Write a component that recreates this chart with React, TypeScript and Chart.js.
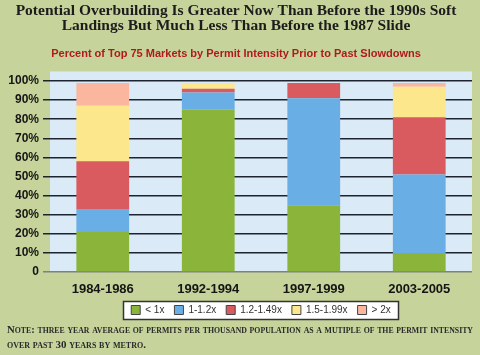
import React, { useEffect, useRef } from "react";
import { Chart, registerables } from "chart.js";

Chart.register(...registerables);

const categories = ["1984-1986", "1992-1994", "1997-1999", "2003-2005"];
const seriesNames = ["< 1x", "1-1.2x", "1.2-1.49x", "1.5-1.99x", "> 2x"];
const lessThan1x = [21, 85, 35, 10];
const from1to12x = [12, 9, 56, 41];
const from12to149x = [25, 2, 8, 30];
const from15to199x = [29, 3, 0, 16];
const over2x = [12, 0, 0, 2];
const seriesColors = ["#8bb43a", "#6aaee6", "#d95b5f", "#fde78c", "#fbb6a0"];
const yTickValues = [0, 10, 20, 30, 40, 50, 60, 70, 80, 90, 100];

const titleLines = [
  "Potential Overbuilding Is Greater Now Than Before the 1990s Soft",
  "Landings But Much Less Than Before the 1987 Slide",
];
const subtitleText = "Percent of Top 75 Markets by Permit Intensity Prior to Past Slowdowns";
const noteLines = [
  "Note: three year average of permits per thousand population as a mutiple of the permit intensity",
  "over past 30 years by metro.",
];

const PAGE_BG = "#c6d49b";
const PLOT_BG = "#daeaf6";

const bgPlugin = {
  id: "customBg",
  afterUpdate(chart: any) {
    chart.$legendShifted = false;
  },
  beforeDraw(chart: any) {
    const { ctx, chartArea } = chart;
    const legend = chart.legend;
    if (legend && !chart.$legendShifted) {
      const dx = Math.round((chartArea.left + chartArea.right) / 2 - (legend.left + legend.right) / 2);
      legend.left += dx;
      legend.right += dx;
      legend.legendHitBoxes.forEach((h: any) => (h.left += dx));
      chart.$legendShifted = true;
    }
    ctx.save();
    ctx.fillStyle = PAGE_BG;
    ctx.fillRect(0, 0, chart.width, chart.height);
    ctx.fillStyle = PLOT_BG;
    ctx.fillRect(chartArea.left, chartArea.top, chartArea.right - chartArea.left, chartArea.bottom - chartArea.top);
    const boxes = legend && legend.legendHitBoxes;
    if (boxes && boxes.length) {
      let l = Infinity, r = -Infinity, t = Infinity, b = -Infinity;
      boxes.forEach((h: any) => {
        l = Math.min(l, h.left);
        r = Math.max(r, h.left + h.width);
        t = Math.min(t, h.top);
        b = Math.max(b, h.top + h.height);
      });
      const x0 = Math.round(l - 8) + 0.5;
      const y0 = Math.round(t - 4) + 0.5;
      const x1 = Math.round(r + 7) + 0.5;
      const y1 = Math.round(b + 4) + 0.5;
      ctx.fillStyle = "#ffffff";
      ctx.fillRect(x0, y0, x1 - x0, y1 - y0);
      ctx.strokeStyle = "#333333";
      ctx.lineWidth = 1.5;
      ctx.strokeRect(x0, y0, x1 - x0, y1 - y0);
    }
    ctx.restore();
  },
  afterDraw(chart: any) {
    const { ctx } = chart;
    ctx.save();
    ctx.fillStyle = "#2a2a2a";
    ctx.font = "small-caps bold 11px 'Liberation Serif'";
    ctx.textAlign = "left";
    ctx.textBaseline = "middle";
    ctx.fillText(noteLines[0], 7, 330.5, 466);
    ctx.fillText(noteLines[1], 7, 345);
    ctx.restore();
  },
};

export default function App() {
  const ref = useRef<HTMLCanvasElement>(null);

  useEffect(() => {
    document.body.style.margin = "0";
    const values = [lessThan1x, from1to12x, from12to149x, from15to199x, over2x];
    const chart = new Chart(ref.current as HTMLCanvasElement, {
      type: "bar",
      data: {
        labels: categories,
        datasets: values.map((data, i) => ({
          label: seriesNames[i],
          data,
          backgroundColor: seriesColors[i],
          borderWidth: 0,
          categoryPercentage: 1,
          barPercentage: 0.5,
        })),
      },
      options: {
        responsive: false,
        animation: false,
        devicePixelRatio: 1,
        layout: { padding: { left: 0, right: 8, top: 0, bottom: 30 } },
        plugins: {
          tooltip: { enabled: false },
          title: {
            display: true,
            text: titleLines,
            color: "#1c1c1c",
            font: { family: "'Liberation Serif'", size: 15.5, weight: "bold", lineHeight: 0.95 },
            padding: { top: 3.5, bottom: 7.5 },
          },
          subtitle: {
            display: true,
            text: subtitleText,
            color: "#b01a1c",
            font: { family: "'Liberation Sans'", size: 11, weight: "bold" },
            padding: { top: 7.4, bottom: 10.4 },
          },
          legend: {
            position: "bottom",
            labels: {
              boxWidth: 9,
              boxHeight: 9,
              padding: 10,
              color: "#333",
              font: { family: "'Liberation Sans'", size: 10 },
              generateLabels: (c: any) =>
                c.data.datasets.map((ds: any, i: number) => ({
                  text: ds.label,
                  fillStyle: ds.backgroundColor,
                  strokeStyle: "#444",
                  lineWidth: 1,
                  hidden: false,
                  datasetIndex: i,
                  fontColor: "#333",
                })),
            },
          },
        },
        scales: {
          x: {
            stacked: true,
            grid: { display: false, drawTicks: false },
            border: { display: false },
            afterFit: (scale: any) => {
              scale.height = 23;
            },
            ticks: {
              color: "#151515",
              padding: 10,
              font: { family: "'Liberation Sans'", size: 13, weight: "bold" },
            },
          },
          y: {
            stacked: true,
            min: 0,
            max: 105,
            afterBuildTicks: (scale: any) => {
              scale.ticks = yTickValues.map((v) => ({ value: v }));
            },
            afterFit: (scale: any) => {
              scale.width = 50;
            },
            border: { display: false },
            grid: {
              color: (ctx: any) => (ctx.tick && ctx.tick.value === 0 ? "#7d827d" : "#1d2430"),
              lineWidth: 1.5,
              tickLength: 7,
              drawTicks: true,
            },
            ticks: {
              color: "#151515",
              padding: 4,
              font: { family: "'Liberation Sans'", size: 12, weight: "bold" },
              callback: (v: any) => (Number(v) === 0 ? "0" : v + "%"),
            },
          },
        },
      },
      plugins: [bgPlugin],
    });
    return () => chart.destroy();
  }, []);

  return (
    <div style={{ position: "fixed", left: 0, top: 0, width: 480, height: 355, background: PAGE_BG }}>
      <canvas ref={ref} width={480} height={355} />
    </div>
  );
}
